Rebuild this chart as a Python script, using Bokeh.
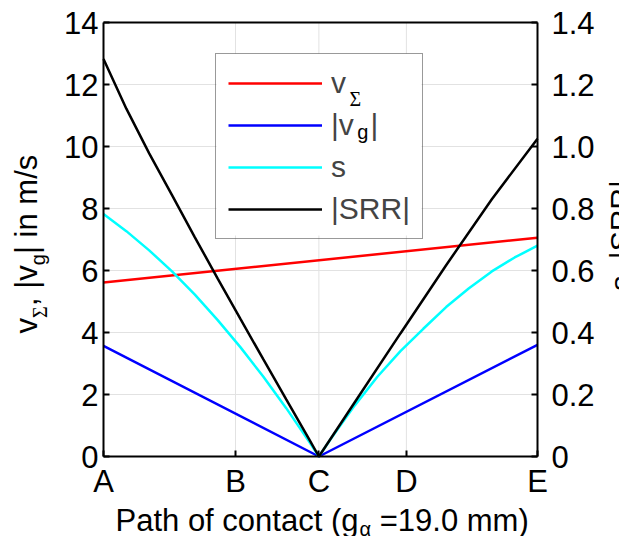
import math
from bokeh.plotting import figure
from bokeh.models import Range1d, LinearAxis, FixedTicker, Legend, LegendItem, ColumnDataSource
from bokeh.embed import file_html
from bokeh.resources import INLINE

# ---------------- data ----------------
tick_pos = [0.0, 5.78, 9.43, 13.26, 19.0]          # path of contact in mm
tick_labels = ["A", "B", "C", "D", "E"]

x_vsum = [0.0, 19.0]
v_sum = [5.61, 7.06]

x_vg = [0.0, 9.43, 19.0]
v_g = [3.57, 0.0, 3.60]

x_s = [0.0, 1.0, 2.0, 3.0, 4.0, 5.0, 6.0, 7.0, 8.0, 9.0, 9.43,
       10.0, 11.0, 12.0, 13.0, 14.0, 15.0, 16.0, 17.0, 18.0, 19.0]
s_val = [0.782, 0.727, 0.665, 0.597, 0.522, 0.440, 0.352, 0.257, 0.156, 0.048, 0.0,
         0.062, 0.165, 0.258, 0.340, 0.412, 0.482, 0.543, 0.597, 0.642, 0.680]

x_srr = [0.0, 1.0, 2.0, 3.0, 4.0, 5.0, 6.0, 7.0, 8.0, 9.0, 9.43,
         11.0, 13.0, 15.0, 17.0, 19.0]
srr_val = [1.282, 1.122, 0.978, 0.843, 0.707, 0.574, 0.443, 0.313, 0.184, 0.056, 0.0,
           0.175, 0.397, 0.617, 0.830, 1.025]

left_ticks = [0, 2, 4, 6, 8, 10, 12, 14]
right_ticks = [0, 0.2, 0.4, 0.6, 0.8, 1.0, 1.2, 1.4]
right_tick_labels = ["0", "0.2", "0.4", "0.6", "0.8", "1.0", "1.2", "1.4"]

legend_labels = ["v", "|v  |", "s", "|SRR|"]

# ---------------- layout ----------------
FONT = "Liberation Sans"
SERIF = "Liberation Serif"
W, H = 619, 536
BOX_L, BOX_T, BOX_S = 103, 22, 434      # plot box in canvas px
BOX_B = BOX_T + BOX_S
XMAX, YMAX, RMAX = 19.0, 14.0, 1.4

AW = {' ': 278, ',': 278, '|': 260, 'v': 500, 'g': 556, 'i': 222, 'n': 556, 'm': 833,
      '/': 278, 's': 500, 'P': 667, 'a': 556, 't': 278, 'h': 556, 'o': 556, 'f': 278,
      'c': 500, '(': 333, ')': 333, '=': 584, '1': 556, '9': 556, '.': 278, '0': 556,
      'S': 667, 'R': 722}


def tw(text, size):
    return sum(AW.get(ch, 556) for ch in text) * size / 1000.0


def xd(X):   # canvas px -> x data
    return (X - BOX_L) / BOX_S * XMAX


def yd(Y):   # canvas px -> y data
    return (BOX_B - Y) / BOX_S * YMAX


p = figure(width=W, height=H,
           x_range=Range1d(xd(0), xd(W)), y_range=Range1d(yd(H), yd(0)),
           output_backend="svg", toolbar_location=None,
           x_axis_location=None, y_axis_location=None,
           min_border=0, min_border_left=0, min_border_right=0,
           min_border_top=0, min_border_bottom=0)
p.extra_y_ranges = {"r": Range1d(yd(H) * RMAX / YMAX, yd(0) * RMAX / YMAX)}
p.background_fill_color = "white"
p.border_fill_color = "white"
p.outline_line_color = None
p.grid.visible = False


def style_axis(ax):
    ax.axis_line_color = "black"
    ax.axis_line_width = 2
    ax.major_tick_in = 6
    ax.major_tick_out = 0
    ax.major_tick_line_width = 2
    ax.major_tick_line_color = "black"
    ax.minor_tick_line_color = None
    ax.major_label_text_font = FONT
    ax.major_label_text_font_size = "31px"
    ax.major_label_text_color = "black"


# ---------------- grid lines (at the tick positions) ----------------
grid_c = "#e2e2e2"
p.segment(x0=tick_pos[1:-1], y0=left_ticks[0], x1=tick_pos[1:-1], y1=left_ticks[-1],
          line_color=grid_c, line_width=1)
p.segment(x0=tick_pos[0], y0=left_ticks[1:-1], x1=tick_pos[-1], y1=left_ticks[1:-1],
          line_color=grid_c, line_width=1)

# ---------------- legend background ----------------
LEG_L, LEG_T, PAD, IH, SP, GW, STD = 215, 52, 12, 34, 8, 94, 9
LEG_H = 2 * PAD + 4 * IH + 3 * SP
p.quad(left=xd(LEG_L + 1), right=xd(LEG_L + 206), top=yd(LEG_T + 1), bottom=yd(LEG_T + LEG_H - 1),
       fill_color="white", line_color=None)

# ---------------- lines ----------------
r_sum = p.line(x_vsum, v_sum, line_color="#ff0000", line_width=2.5)
r_vg = p.line(x_vg, v_g, line_color="#0000ff", line_width=2.5)
r_s = p.line(x_s, s_val, line_color="#00ffff", line_width=2.5, y_range_name="r")
r_srr = p.line(x_srr, srr_val, line_color="#000000", line_width=2.5, y_range_name="r")

# ---------------- axes drawn at the plot box ----------------
xa = LinearAxis(fixed_location=0, bounds=(0, XMAX))
style_axis(xa)
xa.ticker = FixedTicker(ticks=tick_pos)
xa.major_label_overrides = {t: l for t, l in zip(tick_pos, tick_labels)}
xa.major_label_standoff = 7
p.add_layout(xa, "below")

ya = LinearAxis(fixed_location=0, bounds=(0, YMAX))
style_axis(ya)
ya.ticker = FixedTicker(ticks=left_ticks)
ya.major_label_standoff = 5
p.add_layout(ya, "left")

ra = LinearAxis(y_range_name="r", fixed_location=XMAX, bounds=(0, RMAX))
style_axis(ra)
ra.ticker = FixedTicker(ticks=right_ticks)
ra.major_label_overrides = {t: l for t, l in zip(right_ticks, right_tick_labels)}
ra.major_label_standoff = 14
p.add_layout(ra, "right")

ta = LinearAxis(fixed_location=YMAX, bounds=(0, XMAX))
style_axis(ta)
ta.ticker = FixedTicker(ticks=[])
p.add_layout(ta, "above")

# ---------------- legend ----------------
LEG_SHIFT = 3
legend = Legend(items=[LegendItem(label=l, renderers=[r]) for l, r in
                       zip(legend_labels, [r_sum, r_vg, r_s, r_srr])],
                location=(LEG_L, H - (LEG_T + LEG_H) - LEG_SHIFT), orientation="vertical",
                label_text_font=FONT, label_text_font_size="30px",
                glyph_width=GW, glyph_height=IH, label_height=IH, spacing=SP,
                padding=PAD, label_standoff=STD, margin=0,
                border_line_color="#333333", border_line_width=1.5,
                background_fill_alpha=0.0)
p.add_layout(legend)

# ---------------- texts (axis titles, subscripts) ----------------
ann = dict(x=[], y=[], text=[], font=[], size=[], angle=[], align=[])
BASE_K = 0.26   # rendered baseline lies this many font sizes below the anchor


def add_text(t, X, Y, size, font=FONT, angle=0.0, align="left"):
    # (X, Y): wanted baseline position in canvas px
    if angle == 0.0:
        Y = Y - BASE_K * size
    else:
        X = X - BASE_K * size
    ann["x"].append(xd(X))
    ann["y"].append(yd(Y))
    ann["text"].append(t)
    ann["font"].append(font)
    ann["size"].append(f"{size}px")
    ann["angle"].append(angle)
    ann["align"].append(align)


# legend subscripts
txt_x = LEG_L + PAD + 3 + GW + STD
main0 = 86 + LEG_SHIFT            # baseline of the first legend label
add_text("\u03a3", txt_x + tw("v", 30) + 1, main0 + 15, 20, SERIF)
add_text("g", txt_x + tw("|v", 30) + 1, main0 + (IH + SP) + 6, 20)

# x-axis title
XL_X, XL_Y = 115, 528
t1, t3 = "Path of contact (g", "=19.0 mm)"
w1 = tw(t1, 31)
add_text(t1, XL_X, XL_Y, 31)
a_x = XL_X + w1 + 1
add_text("\u03b1", a_x, XL_Y + 6, 20)
add_text(t3, a_x + 11.6 + tw(" ", 31), XL_Y, 31)

# y-axis title (bottom to top)
ang = math.pi / 2
YB_X, yy = 34, 333
add_text("v", YB_X, yy, 31, angle=ang)
yy -= tw("v", 31)
add_text("\u03a3", YB_X + 11, yy, 20, SERIF, angle=ang)
yy -= 12
add_text(", |v", YB_X, yy, 31, angle=ang)
yy -= tw(", |v", 31)
add_text("g", YB_X + 9, yy, 20, angle=ang)
yy -= tw("g", 20)
add_text("| in m/s", YB_X, yy, 31, angle=ang)

# right axis title, cut by the window edge as in the original
add_text("s, |SRR|", 628, 235, 30, angle=ang, align="center")

p.text(x="x", y="y", text="text", text_font="font", text_font_size="size",
       angle="angle", text_align="align", text_baseline="alphabetic",
       text_color="black", source=ColumnDataSource(ann))

open("out.html", "w").write(file_html(p, INLINE))
